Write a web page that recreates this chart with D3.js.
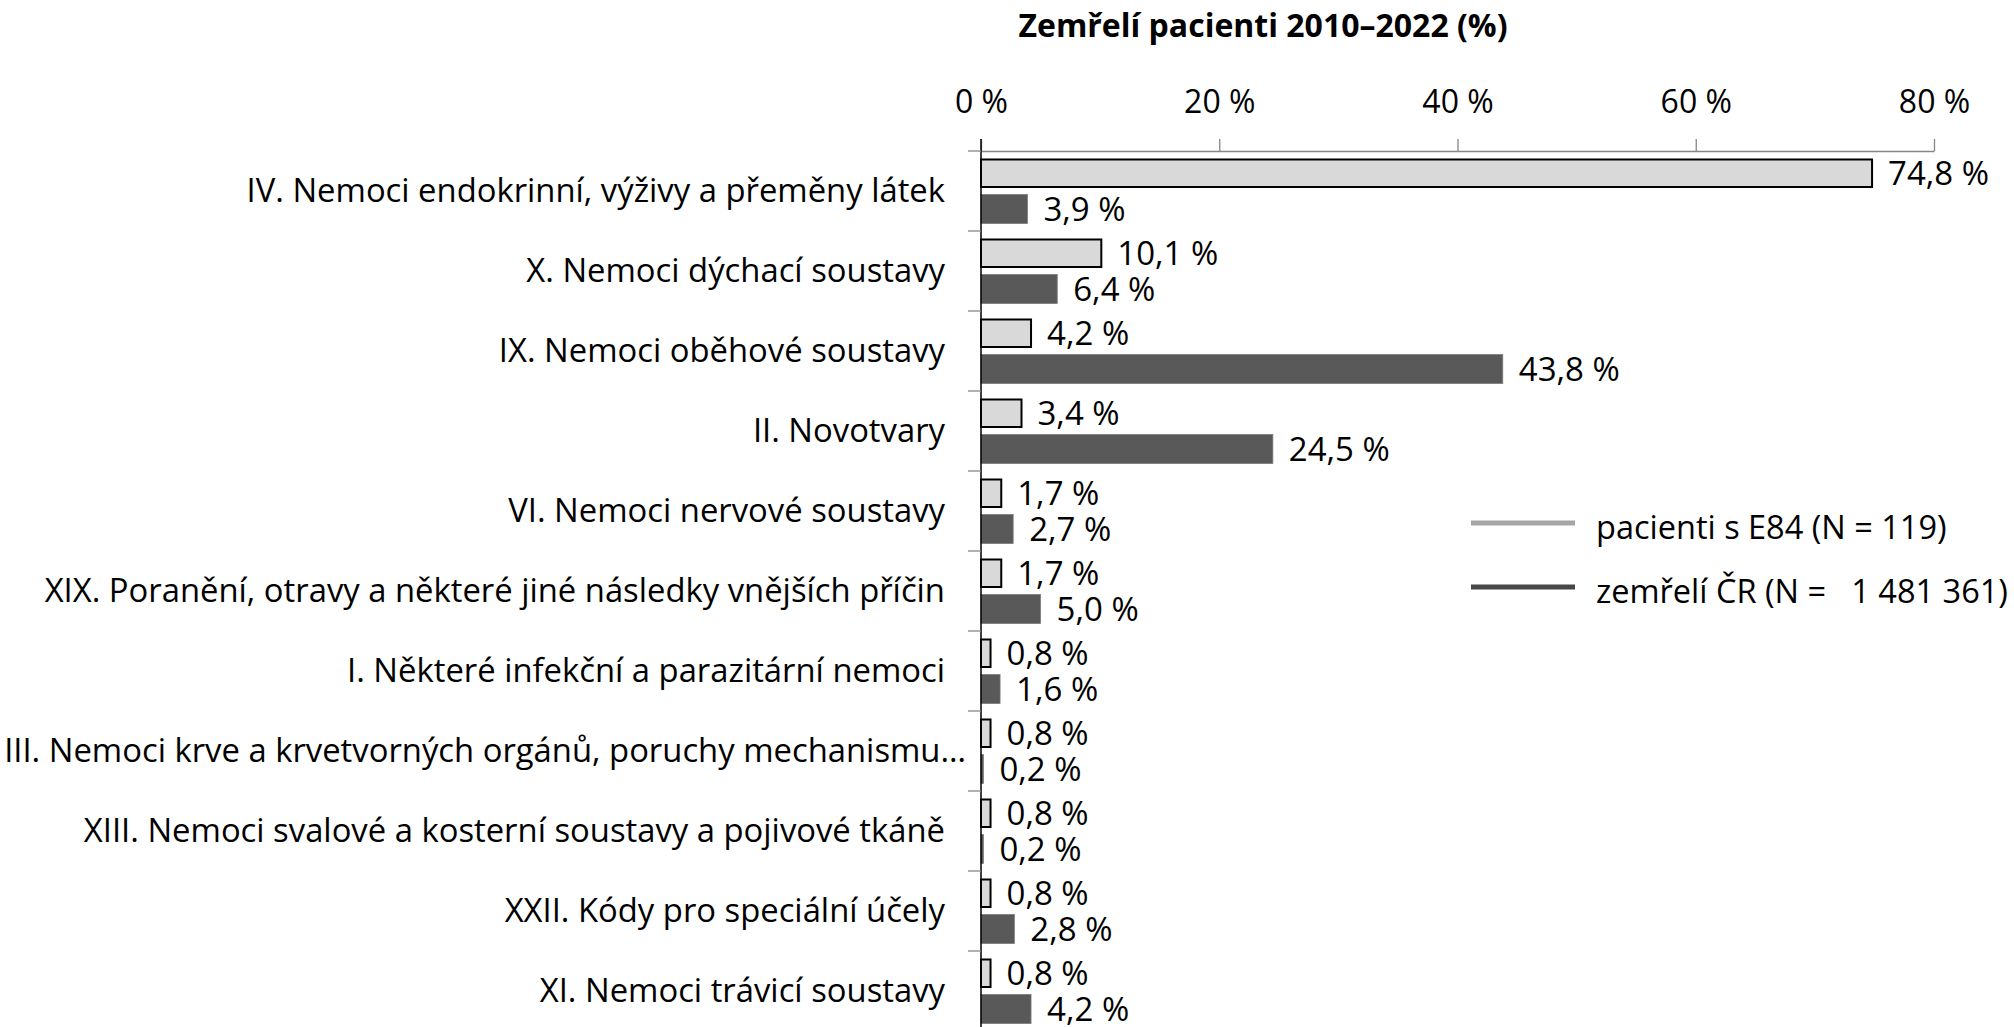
<!DOCTYPE html>
<html>
<head>
<meta charset="utf-8">
<script src="https://cdn.jsdelivr.net/npm/d3@7"></script>
<style>
  html, body { margin: 0; padding: 0; background: #fff; }
  svg { display: block; font-family: "Open Sans", Lato, sans-serif; }
</style>
</head>
<body>
<svg id="chart" width="2014" height="1027"></svg>
<script>
// Diagnoses (ICD-10 chapters) listed as causes of death
const categories = [
  "IV. Nemoci endokrinní, výživy a přeměny látek",
  "X. Nemoci dýchací soustavy",
  "IX. Nemoci oběhové soustavy",
  "II. Novotvary",
  "VI. Nemoci nervové soustavy",
  "XIX. Poranění, otravy a některé jiné následky vnějších příčin",
  "I. Některé infekční a parazitární nemoci",
  "III. Nemoci krve a krvetvorných orgánů, poruchy mechanismu…",
  "XIII. Nemoci svalové a kosterní soustavy a pojivové tkáně",
  "XXII. Kódy pro speciální účely",
  "XI. Nemoci trávicí soustavy"
];
// Share of deaths (%) among patients with E84
const e84Values = [74.8, 10.1, 4.2, 3.4, 1.7, 1.7, 0.8, 0.8, 0.8, 0.8, 0.8];
// Share of deaths (%) in the whole Czech population
const crValues = [3.9, 6.4, 43.8, 24.5, 2.7, 5.0, 1.6, 0.2, 0.2, 2.8, 4.2];
const seriesKeys = ["e84", "cr"];
const seriesNames = ["pacienti s E84 (N = 119)", "zemřelí ČR (N =   1 481 361)"];
const xTicks = [0, 20, 40, 60, 80];
const titleText = "Zemřelí pacienti 2010–2022 (%)";

const svg = d3.select("#chart");
const W = 2014, H = 1027;
svg.append("rect").attr("width", W).attr("height", H).attr("fill", "#fff");

const x0 = 981, x1 = 1934, yTop = 151, step = 80;
const x = d3.scaleLinear().domain([0, 80]).range([x0, x1]);
const y = d3.scaleBand().domain(categories).range([yTop, yTop + step * categories.length]).padding(0);
const ySub = d3.scaleBand().domain(seriesKeys).range([0, y.bandwidth()])
  .paddingInner(0.194).paddingOuter(0.208);

const rows = categories.map((c, i) => ({ cat: c, e84: e84Values[i], cr: crValues[i] }));
const fmt = v => d3.format(".1f")(v).replace(".", ",") + " %";

// Title
svg.append("text")
  .attr("x", 1263).attr("y", 37)
  .attr("text-anchor", "middle")
  .attr("font-weight", "bold")
  .attr("font-size", 32)
  .attr("fill", "#000")
  .text(titleText);

// Top value axis
const xAxis = d3.axisTop(x).tickValues(xTicks).tickSize(12).tickSizeOuter(0)
  .tickFormat(d => d + " %");
const gx = svg.append("g").attr("transform", `translate(0,${yTop})`).call(xAxis);
gx.select(".domain").attr("stroke", "#868686").attr("stroke-width", 1.3);
gx.selectAll(".tick line").attr("stroke", "#868686").attr("stroke-width", 1.3);
gx.selectAll(".tick text")
  .attr("font-size", 32).attr("fill", "#000")
  .attr("font-family", "'Open Sans', sans-serif")
  .attr("dy", null).attr("y", -38);

// Bars
const g = svg.append("g");
rows.forEach(r => {
  const by = y(r.cat);
  // patients with E84: light fill, black outline
  g.append("rect")
    .attr("x", x(0))
    .attr("y", by + ySub("e84") + 1)
    .attr("width", x(r.e84) - x(0))
    .attr("height", ySub.bandwidth() - 1.5)
    .attr("fill", "#d9d9d9")
    .attr("stroke", "#000")
    .attr("stroke-width", 2);
  // whole population: dark fill
  g.append("rect")
    .attr("x", x(0))
    .attr("y", by + ySub("cr"))
    .attr("width", x(r.cr) - x(0))
    .attr("height", ySub.bandwidth())
    .attr("fill", "#595959")
    .attr("stroke", "#7a7a7a")
    .attr("stroke-width", 0.8);
  // value labels
  [["e84", r.e84], ["cr", r.cr]].forEach(([k, v]) => {
    g.append("text")
      .attr("x", x(v) + 16)
      .attr("y", by + ySub(k) + ySub.bandwidth() / 2)
      .attr("dy", "0.35em")
      .attr("font-size", 33)
      .attr("fill", "#000")
      .text(fmt(v));
  });
});

// Category axis
const yAxisG = svg.append("g");
yAxisG.append("line")
  .attr("x1", x0).attr("x2", x0)
  .attr("y1", yTop - 12).attr("y2", H + 10)
  .attr("stroke", "#000").attr("stroke-width", 1.5);
categories.forEach(c => {
  yAxisG.append("line")
    .attr("x1", x0 - 13).attr("x2", x0)
    .attr("y1", y(c)).attr("y2", y(c))
    .attr("stroke", "#868686").attr("stroke-width", 1.3);
  const truncated = c.endsWith("…");
  yAxisG.append("text")
    .attr("x", truncated ? x0 - 15 : x0 - 36)
    .attr("y", y(c) + y.bandwidth() / 2)
    .attr("dy", "0.35em")
    .attr("text-anchor", "end")
    .attr("font-size", 32.8)
    .attr("fill", "#000")
    .text(c);
});

// Legend
const legendColors = ["#a6a6a6", "#474747"];
const legend = svg.append("g");
seriesNames.forEach((name, i) => {
  const ly = 523 + i * 64;
  legend.append("line")
    .attr("x1", 1471).attr("x2", 1575)
    .attr("y1", ly).attr("y2", ly)
    .attr("stroke", legendColors[i]).attr("stroke-width", 5);
  legend.append("text")
    .attr("x", 1596).attr("y", ly + 16)
    .attr("font-size", 32.5)
    .attr("fill", "#000")
    .attr("xml:space", "preserve")
    .style("white-space", "pre")
    .text(name);
});
</script>
</body>
</html>
